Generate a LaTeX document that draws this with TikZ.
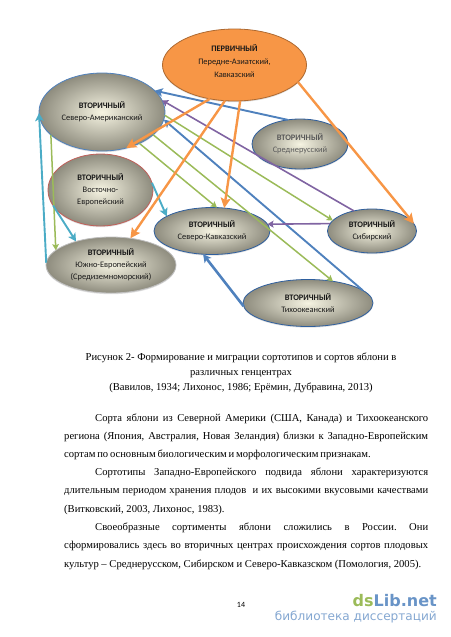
\documentclass[tikz,border=0pt]{standalone}
\usepackage{fontspec}
\setmainfont{Liberation Serif}
\newfontfamily\schemefont{Carlito}
\newfontfamily\markfont{DejaVu Sans}
\usepackage{xcolor}
\usepackage{tikz}
\usetikzlibrary{calc, shapes.geometric, positioning, arrows.meta, shadows}

\definecolor{orangeln}{HTML}{F79646}
\definecolor{blueln}{HTML}{4F81BD}
\definecolor{greenln}{HTML}{9BBB59}
\definecolor{purpleln}{HTML}{8064A2}
\definecolor{cyanln}{HTML}{4BACC6}
\definecolor{ringblue}{HTML}{2F5F9E}
\definecolor{centercream}{HTML}{F6F4E2}
\definecolor{edgegrey}{HTML}{8E8C7E}
\definecolor{ringred}{HTML}{C0605A}

\tikzset{
    center/.style={ellipse, inner sep=0pt, outer sep=0pt, align=center, text=black!90,
        font=\schemefont\fontsize{8.4}{12}\selectfont, thick,
        inner color=centercream, outer color=edgegrey,
        drop shadow={shadow xshift=0pt, shadow yshift=-1.2pt, fill=black!25}},
    orangearrow/.style={-{Stealth[length=10pt, width=10pt, inset=2pt]}, orangeln, line width=2.4pt},
    bluearrow/.style={-{Stealth[length=8pt, width=8.5pt, inset=2pt]}, blueln, line width=1.9pt},
    greenarrow/.style={-{Stealth[length=6pt, width=6.5pt, inset=1pt]}, greenln, line width=1.5pt},
    purplearrow/.style={-{Stealth[length=6pt, width=7pt, inset=1pt]}, purpleln, line width=1.6pt},
    cyanarrow/.style={-{Stealth[length=8pt, width=8.5pt, inset=2pt]}, cyanln, line width=1.9pt},
    capline/.style={font=\fontsize{10.6}{12}\selectfont, inner sep=0pt, anchor=base},
    bodytext/.style={font=\fontsize{10.6}{18.2}\selectfont\frenchspacing, inner sep=0pt, anchor=north west, align=left}
}
\newcommand{\fullline}[1]{\makebox[364pt][s]{#1}}
\newcommand{\headline}[1]{\makebox[364pt][s]{\hspace*{31pt}#1}}

\begin{document}
\begin{tikzpicture}[>=latex, x=1pt, y=-1pt]
    \useasboundingbox (0,0) rectangle (450,637);

    % Центры
    \node[center, draw=orangeln!70!black, inner color=orangeln, outer color=orangeln,
        font=\schemefont\fontsize{8.4}{13}\selectfont,
        minimum width=144pt, minimum height=72pt] (prim) at (234.5,65)
        {\textbf{ПЕРВИЧНЫЙ}\\Передне-Азиатский,\\Кавказский\\[-5pt]\mbox{}};
    \node[center, draw=blueln, minimum width=126pt, minimum height=78pt] (namer) at (102,112)
        {\textbf{ВТОРИЧНЫЙ}\\Северо-Американский};
    \node[center, draw=ringblue, text=black!65, minimum width=96pt, minimum height=50pt] (sred) at (300,144)
        {\textbf{ВТОРИЧНЫЙ}\\Среднерусский};
    \node[center, draw=ringred, minimum width=105pt, minimum height=72pt] (vost) at (100.5,190)
        {\textbf{ВТОРИЧНЫЙ}\\Восточно-\\Европейский};
    \node[center, draw=black!25, minimum width=130pt, minimum height=56pt] (south) at (111,265)
        {\textbf{ВТОРИЧНЫЙ}\\Южно-Европейский\\(Средиземноморский)};
    \node[center, draw=ringblue, minimum width=116pt, minimum height=47pt] (cauc) at (212,231)
        {\textbf{ВТОРИЧНЫЙ}\\Северо-Кавказский};
    \node[center, draw=ringblue, minimum width=89pt, minimum height=44pt] (sib) at (372,231)
        {\textbf{ВТОРИЧНЫЙ}\\Сибирский};
    \node[center, draw=ringblue, minimum width=130pt, minimum height=47pt] (pac) at (308,303)
        {\textbf{ВТОРИЧНЫЙ}\\Тихоокеанский};

    % Стрелки
    \foreach \a/\b in {namer.-3/sib.165, namer.-24/pac.41, namer.-40/cauc.78, namer.204/south.165}
        \draw[greenarrow] (\a) -- (\b);
    \foreach \a/\b in {sred.117/namer.22, pac.13/namer.-7}
        \draw[bluearrow] (\a) -- (\b);
    \draw[bluearrow, line width=2.6pt] (pac.183) -- (cauc.249);
    \foreach \a/\b in {sib.132/namer.11, sib.170/cauc.7}
        \draw[purplearrow] (\a) -- (\b);
    \foreach \a/\b in {south.178/namer.181, vost.8/cauc.162, vost.198/south.146}
        \draw[cyanarrow] (\a) -- (\b);
    \foreach \a/\b in {prim.234/namer.304, prim.255/south.54, prim.279/cauc.62, prim.345/sib.10}
        \draw[orangearrow] (\a) -- (\b);

    % Подпись
    \node[capline] (cap1) at (241,360) {Рисунок 2- Формирование и миграции сортотипов и сортов яблони в};
    \node[capline] (cap2) at (241,375) {различных генцентрах};
    \node[capline] (cap3) at (241,390) {(Вавилов, 1934; Лихонос, 1986; Ерёмин, Дубравина, 2013)};

    % Текст
    \node[bodytext] (para1) at (64,413.5) {%
        \headline{Сорта яблони из Северной Америки (США, Канада) и Тихоокеанского}\\
        \fullline{региона (Япония, Австралия, Новая Зеландия) близки к Западно-Европейским}\\
        \makebox[306pt][s]{сортам по основным биологическим и морфологическим признакам.}};
    \node[bodytext] (para2) at (64,468) {%
        \headline{Сортотипы Западно-Европейского подвида яблони характеризуются}\\
        \fullline{длительным периодом хранения плодов\ \ и их высокими вкусовыми качествами}\\
        (Витковский, 2003, Лихонос, 1983).};
    \node[bodytext] (para3) at (64,523) {%
        \headline{Своеобразные сортименты яблони сложились в России. Они}\\
        \fullline{сформировались здесь во вторичных центрах происхождения сортов плодовых}\\
        культур – Среднерусском, Сибирском и Северо-Кавказском (Помология, 2005).};

    \node[font=\schemefont\fontsize{8}{10}\selectfont, inner sep=0pt] (page) at (241,605) {14};

    % Знак
    \node[font=\markfont\bfseries\fontsize{16}{20}\selectfont, inner sep=0pt, anchor=base east] (mark) at (437,606)
        {\textcolor{greenln}{ds}\textcolor{blueln!85}{Lib.net}};
    \node[font=\markfont\fontsize{12.1}{14}\selectfont, inner sep=0pt, anchor=base east, text=blueln!70] (marktxt) at (437,620)
        {библиотека диссертаций};
\end{tikzpicture}
\end{document}
